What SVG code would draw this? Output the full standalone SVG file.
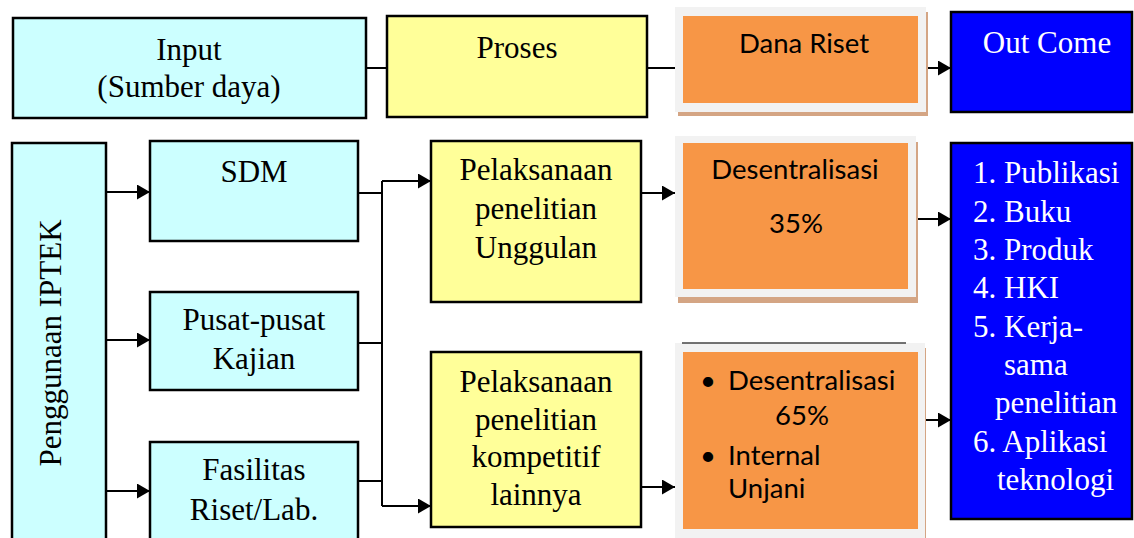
<svg xmlns="http://www.w3.org/2000/svg" width="1134" height="538" viewBox="0 0 1134 538">
<defs>
<marker id="ah" markerUnits="userSpaceOnUse" markerWidth="14" markerHeight="15" refX="13" refY="7.5" orient="auto">
<path d="M0,0 L13,7.5 L0,15 z" fill="#000"/>
</marker>
<style>
.box{stroke:#000;stroke-width:2.5}
.cy{fill:#ccffff}
.ye{fill:#ffff99}
.bl{fill:#0000ff}
.frame{fill:#f2f2f2}
.or{fill:#f79646}
.sh{fill:#d4a584}
.ser{font-family:"Liberation Serif","Times New Roman",serif;font-size:31px;fill:#000}
.wh{fill:#fff}
.cal{font-family:Lato,"Open Sans",sans-serif;font-size:27.5px;fill:#000}
.mid{text-anchor:middle}
.ln{fill:none;stroke:#000;stroke-width:2}
</style>
</defs>
<rect width="1134" height="538" fill="#fff"/>

<g id="connectors">
<path class="ln" d="M366,68 H387"/>
<path class="ln" d="M647,68 H675"/>
<path class="ln" d="M926,68 H951" marker-end="url(#ah)"/>
<path class="ln" d="M106,192 H150" marker-end="url(#ah)"/>
<path class="ln" d="M106,340 H150" marker-end="url(#ah)"/>
<path class="ln" d="M106,491 H150" marker-end="url(#ah)"/>
<path class="ln" d="M358,193 H382"/>
<path class="ln" d="M358,343 H382"/>
<path class="ln" d="M358,481 H382"/>
<path class="ln" d="M382,181 V506"/>
<path class="ln" d="M382,181 H431" marker-end="url(#ah)"/>
<path class="ln" d="M382,506 H431" marker-end="url(#ah)"/>
<path class="ln" d="M641,193 H675" marker-end="url(#ah)"/>
<path class="ln" d="M641,487 H675" marker-end="url(#ah)"/>
<path class="ln" d="M916,219 H951" marker-end="url(#ah)"/>
<path class="ln" d="M925,420 H951" marker-end="url(#ah)"/>
</g>

<g id="input">
<rect class="box cy" x="13" y="18" width="353" height="100"/>
<text class="ser mid" x="189" y="60">Input</text>
<text class="ser mid" x="189" y="97">(Sumber daya)</text>
</g>

<g id="proses">
<rect class="box ye" x="387" y="16" width="260" height="101"/>
<text class="ser mid" x="517" y="58">Proses</text>
</g>

<g id="dana-riset">
<rect class="sh" x="678" y="12" width="250" height="104"/>
<rect class="frame" x="675" y="7" width="251" height="105"/>
<rect class="or" x="683" y="16" width="235" height="87"/>
<text class="cal mid" x="804" y="53">Dana Riset</text>
</g>

<g id="outcome">
<rect class="box bl" x="951" y="12" width="181" height="100"/>
<text class="ser wh mid" x="1047" y="53">Out Come</text>
</g>

<g id="penggunaan">
<rect class="box cy" x="12" y="143" width="94" height="410"/>
<text class="ser mid" font-size="32.5" transform="translate(61,343) rotate(-90)">Penggunaan IPTEK</text>
</g>

<g id="sdm">
<rect class="box cy" x="150" y="141" width="208" height="100"/>
<text class="ser mid" x="254" y="182">SDM</text>
</g>

<g id="pusat">
<rect class="box cy" x="150" y="292" width="208" height="98"/>
<text class="ser mid" x="254" y="330">Pusat-pusat</text>
<text class="ser mid" x="254" y="369">Kajian</text>
</g>

<g id="fasilitas">
<rect class="box cy" x="150" y="442" width="208" height="110"/>
<text class="ser mid" x="254" y="480">Fasilitas</text>
<text class="ser mid" x="254" y="520">Riset/Lab.</text>
</g>

<g id="unggulan">
<rect class="box ye" x="431" y="141" width="210" height="161"/>
<text class="ser mid" x="536" y="180">Pelaksanaan</text>
<text class="ser mid" x="536" y="219">penelitian</text>
<text class="ser mid" x="536" y="258">Unggulan</text>
</g>

<g id="kompetitif">
<rect class="box ye" x="431" y="352" width="210" height="175"/>
<text class="ser mid" x="536" y="392">Pelaksanaan</text>
<text class="ser mid" x="536" y="430">penelitian</text>
<text class="ser mid" x="536" y="467">kompetitif</text>
<text class="ser mid" x="536" y="505">lainnya</text>
</g>

<g id="desentralisasi-35">
<rect class="sh" x="678" y="142" width="240" height="161"/>
<rect class="frame" x="675" y="136" width="241" height="161"/>
<rect class="or" x="683" y="143" width="225" height="146"/>
<text class="cal mid" x="795" y="179">Desentralisasi</text>
<text class="cal mid" x="796" y="233">35%</text>
</g>

<g id="desentralisasi-65">
<rect class="sh" x="678" y="348" width="248" height="195"/>
<rect class="frame" x="675" y="343" width="250" height="200"/>
<path d="M682,343 H906" stroke="#444" stroke-width="1.5"/>
<rect class="or" x="683" y="352" width="235" height="177"/>
<text class="cal" x="700" y="390">•</text>
<text class="cal" x="728" y="390">Desentralisasi</text>
<text class="cal" x="775" y="425">65%</text>
<text class="cal" x="700" y="465">•</text>
<text class="cal" x="728" y="465">Internal</text>
<text class="cal" x="728" y="498">Unjani</text>
</g>

<g id="outcome-list">
<rect class="box bl" x="951" y="143" width="181" height="376"/>
<text class="ser wh" x="973" y="183">1. Publikasi</text>
<text class="ser wh" x="973" y="222">2. Buku</text>
<text class="ser wh" x="973" y="260">3. Produk</text>
<text class="ser wh" x="973" y="298">4. HKI</text>
<text class="ser wh" x="973" y="337">5. Kerja-</text>
<text class="ser wh" x="1004" y="375">sama</text>
<text class="ser wh" x="995" y="413">penelitian</text>
<text class="ser wh" x="973" y="452">6. Aplikasi</text>
<text class="ser wh" x="997" y="490">teknologi</text>
</g>
</svg>
